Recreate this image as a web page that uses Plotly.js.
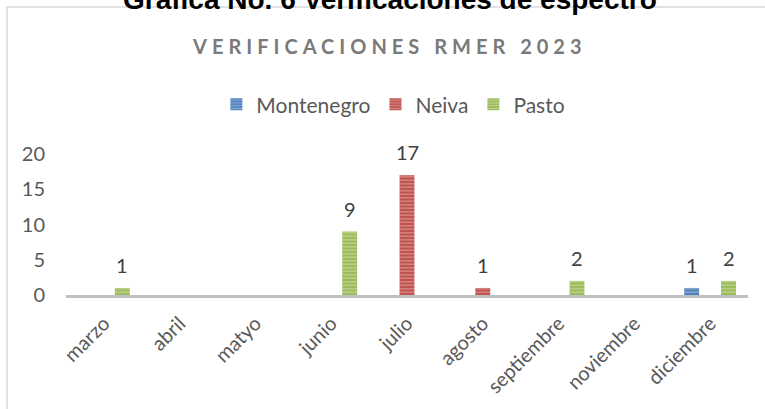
<!DOCTYPE html>
<html>
<head>
<meta charset="utf-8">
<script src="https://cdn.plot.ly/plotly-3.0.1.min.js"></script>
<style>
html,body{margin:0;padding:0;background:#fff;}
#chart{width:765px;height:409px;}
</style>
</head>
<body>
<div id="chart"></div>
<script>
const categories = ["marzo","abril","matyo","junio","julio","agosto","septiembre","noviembre","diciembre"];
const montenegro = [null,null,null,null,null,null,null,null,1];
const neiva = [null,null,null,null,17,1,null,null,null];
const pasto = [1,null,null,9,null,null,2,null,2];
const seriesNames = ["Montenegro","Neiva","Pasto"];
const yTicks = [0,5,10,15,20];
const mainTitle = "Grafica No. 6 Verificaciones de espectro";
const subTitle = "VERIFICACIONES RMER 2023";

const colors = ["#4f81bd","#c0504d","#9bbb59"];
const lightColors = ["#c3d4ea","#ecc4c3","#dde9c6"];
const seriesData = [montenegro, neiva, pasto];
const shifts = [-18.5, 0, 18.5];
const font = "Lato, 'Open Sans', sans-serif";

const traces = seriesData.map((vals, i) => ({
  type: "bar",
  name: seriesNames[i],
  x: categories,
  y: vals,
  marker: {
    color: colors[i],
    line: {width: 0},
    pattern: {shape: "-", fgcolor: lightColors[i], bgcolor: colors[i], size: 3.5, solidity: 0.4, fillmode: "overlay"}
  },
  hoverinfo: "skip"
}));

const annotations = [];
seriesData.forEach((vals, i) => {
  vals.forEach((v, j) => {
    if (v !== null && v !== undefined) {
      annotations.push({
        x: categories[j], y: v, xref: "x", yref: "y",
        text: String(v), showarrow: false,
        xshift: shifts[i], yshift: 23, yanchor: "middle",
        font: {family: font, size: 20, color: "#404040"}
      });
    }
  });
});
annotations.push({
  x: 0.475, y: (295 - 48) / 140, xref: "paper", yref: "paper",
  text: "<b>" + subTitle + "</b>", showarrow: false, yanchor: "middle",
  font: {family: font, size: 20, color: "#7a7a7a"}
});
annotations.push({
  x: 0.475, y: (295 - 19) / 140, xref: "paper", yref: "paper",
  text: "<b>" + mainTitle + "</b>", showarrow: false, yanchor: "bottom",
  font: {family: "Liberation Sans, Arial, sans-serif", size: 28, color: "#000000"}
});

const layout = {
  width: 765, height: 409,
  margin: {l: 66, r: 17, t: 154, b: 114, pad: 0},
  paper_bgcolor: "#ffffff", plot_bgcolor: "#ffffff",
  barmode: "group", bargap: 0.27, bargroupgap: 0.19,
  showlegend: true,
  legend: {
    orientation: "h", x: 0.48, xanchor: "center", y: (295 - 106) / 140, yanchor: "middle",
    font: {family: font, size: 21, color: "#595959"}, itemwidth: 30, tracegroupgap: 0,
    traceorder: "normal"
  },
  xaxis: {
    type: "category", categoryorder: "array", categoryarray: categories,
    showline: true, linecolor: "#bfbfbf", linewidth: 3, showgrid: false, zeroline: false,
    ticks: "", tickangle: -45, tickfont: {family: font, size: 20, color: "#595959"},
    ticklabelstandoff: 6, fixedrange: true
  },
  yaxis: {
    range: [0, 20], tickvals: yTicks, ticktext: yTicks.map(String),
    showgrid: false, zeroline: false, showline: false, ticks: "",
    tickfont: {family: font, size: 20, color: "#595959"}, ticklabelstandoff: 20, fixedrange: true
  },
  annotations: annotations,
  shapes: [{
    type: "rect", xref: "paper", yref: "paper",
    x0: (7 - 66) / 682, x1: 1.2, y0: -1.2, y1: (295 - 9) / 140,
    line: {color: "#d9d9d9", width: 1.5}, fillcolor: "rgba(0,0,0,0)", layer: "below"
  }]
};

Plotly.newPlot("chart", traces, layout, {staticPlot: true}).then(() => {
  document.querySelectorAll(".annotation-text").forEach(t => {
    if (t.textContent === subTitle) t.setAttribute("letter-spacing", "5px");
  });
});
</script>
</body>
</html>
